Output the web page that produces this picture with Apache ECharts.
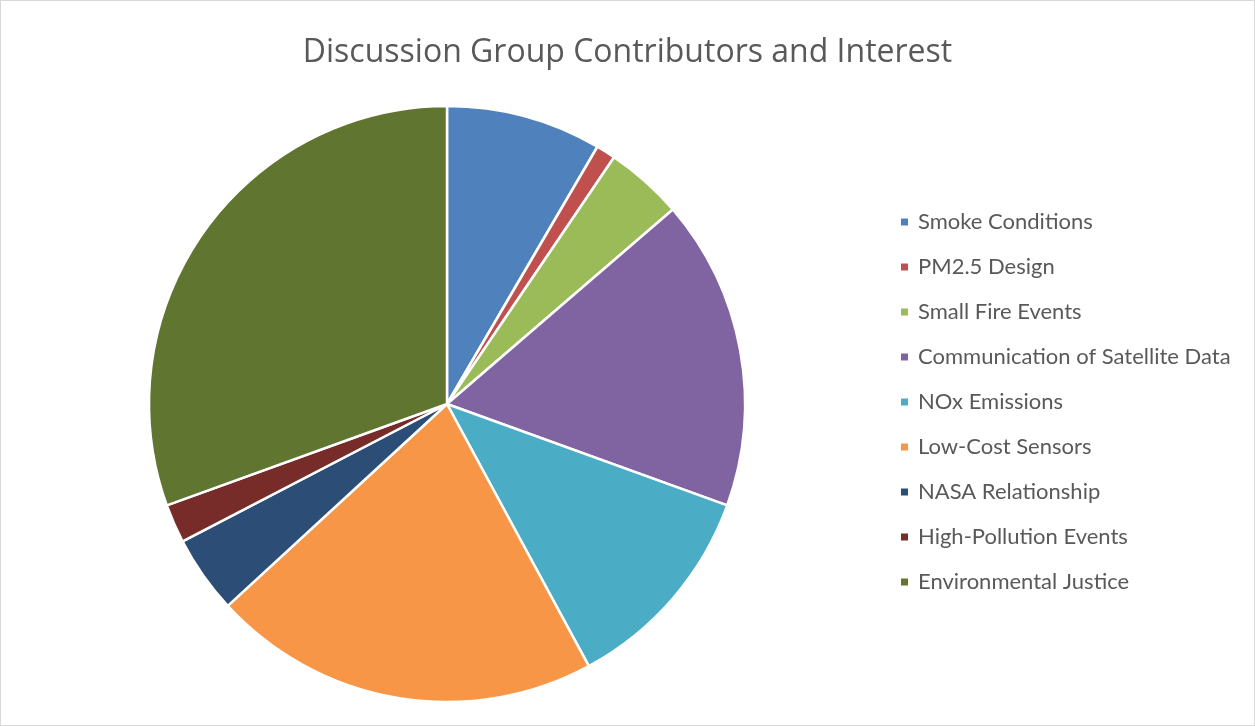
<!DOCTYPE html>
<html><head><meta charset="utf-8">
<script src="https://cdn.jsdelivr.net/npm/echarts@6/dist/echarts.min.js"></script>
<style>html,body{margin:0;padding:0;background:#fff}#c{width:1255px;height:726px;box-sizing:border-box;border:1px solid #d9d9d9}</style>
</head><body><div id="c"></div>
<script>
const categories = ["Smoke Conditions","PM2.5 Design","Small Fire Events","Communication of Satellite Data","NOx Emissions","Low-Cost Sensors","NASA Relationship","High-Pollution Events","Environmental Justice"];
const values = [8,1,4,16,11,20,4,2,29];
const colors = ["#4f81bd","#c0504d","#9bbb59","#8064a2","#4bacc6","#f79646","#2c4d75","#772c2a","#5f7530"];
const chart = echarts.init(document.getElementById('c'));
chart.setOption({
  animation:false,
  title:{text:"Discussion Group Contributors and Interest",left:'center',top:31,textStyle:{fontFamily:"Open Sans",fontWeight:'normal',fontSize:32,color:'#595959'}},
  legend:{orient:'vertical',left:893,top:205,itemWidth:9,itemHeight:9,itemGap:23,icon:'rect',
    textStyle:{fontFamily:"Lato",fontSize:22,color:'#595959',padding:[0,0,0,4]},data:categories},
  color:colors,
  series:[{type:'pie',center:[446,403],radius:[0,298],startAngle:90,clockwise:true,label:{show:false},labelLine:{show:false},
    itemStyle:{borderColor:'#fff',borderWidth:2.5},emphasis:{disabled:true},
    data:categories.map((n,i)=>({name:n,value:values[i]}))}]
});
</script></body></html>
